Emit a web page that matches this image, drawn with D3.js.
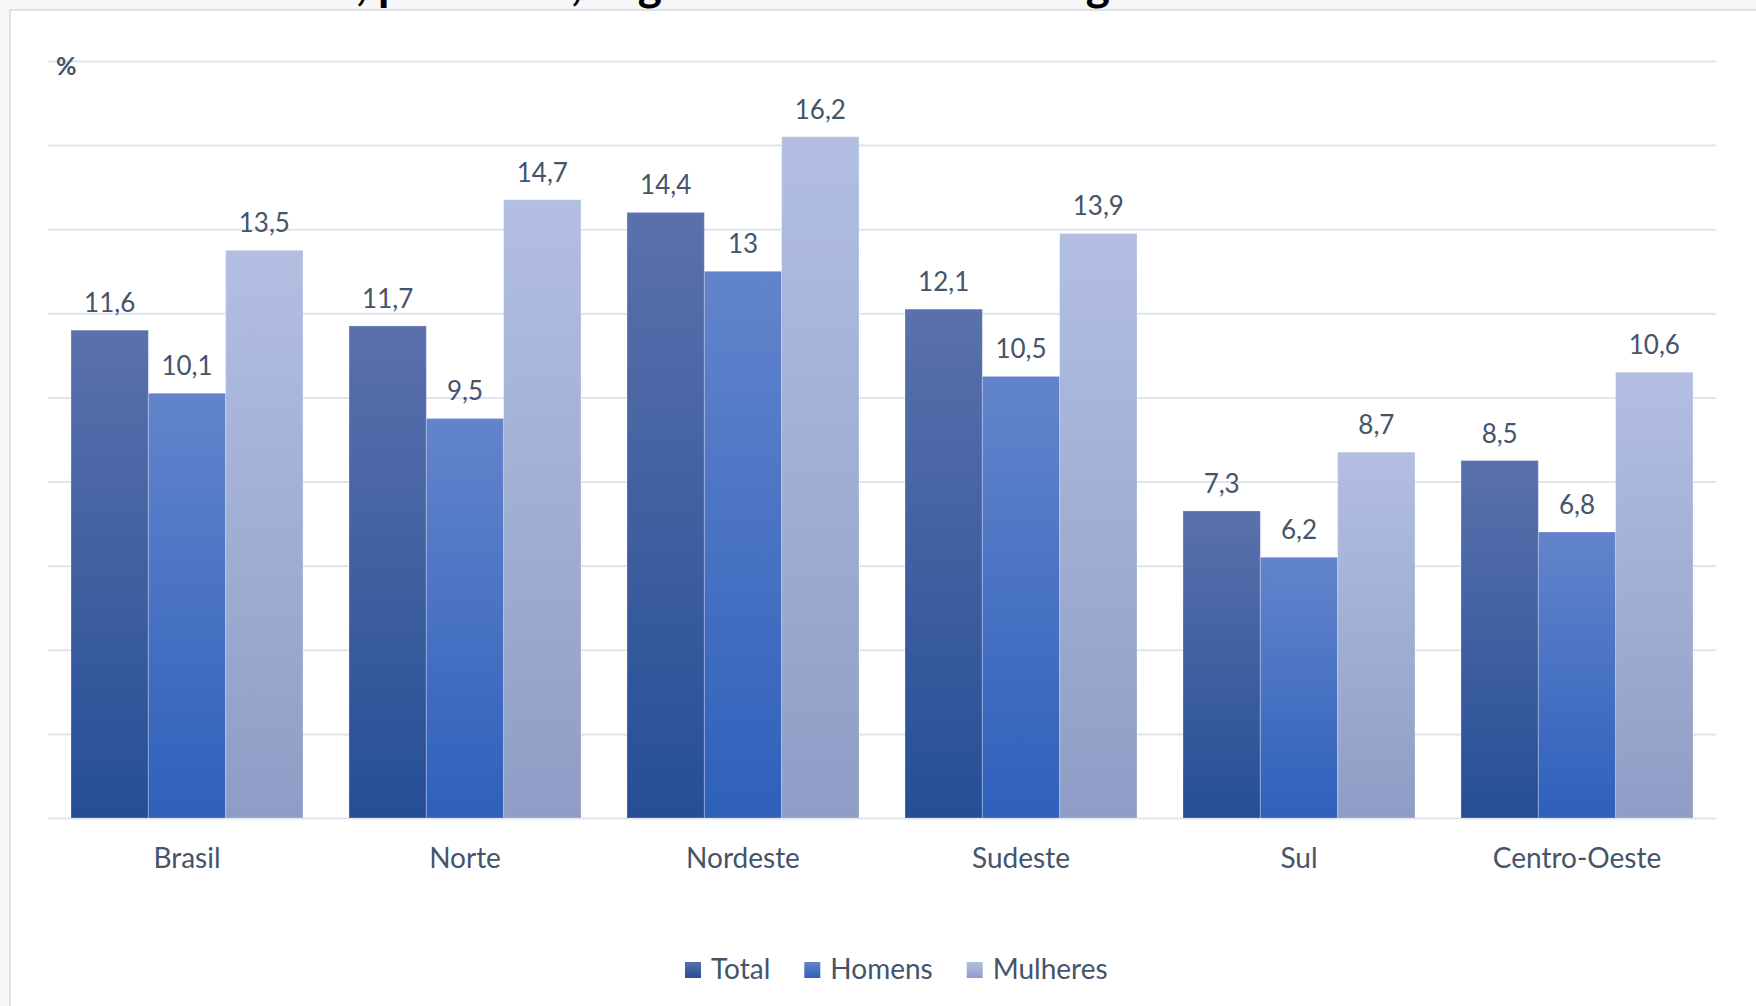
<!DOCTYPE html>
<html>
<head>
<meta charset="utf-8">
<script src="https://cdnjs.cloudflare.com/ajax/libs/d3/7.8.5/d3.min.js"></script>
<style>
  html, body { margin: 0; padding: 0; background: #f7f7f7; }
  svg { display: block; font-family: Lato, "Open Sans", sans-serif; }
</style>
</head>
<body>
<svg id="chart" width="1756" height="1006"></svg>
<script>
// regions and series (taxa, %)
const regions = ['Brasil', 'Norte', 'Nordeste', 'Sudeste', 'Sul', 'Centro-Oeste'];
const seriesNames = ['Total', 'Homens', 'Mulheres'];
const total = [11.6, 11.7, 14.4, 12.1, 7.3, 8.5];
const homens = [10.1, 9.5, 13, 10.5, 6.2, 6.8];
const mulheres = [13.5, 14.7, 16.2, 13.9, 8.7, 10.6];
const yTicks = [0, 2, 4, 6, 8, 10, 12, 14, 16, 18];

// title pieces: [text, index of the char to line up, x where that char starts]
const titleParts = [
  ['Taxa de desocupação no 1º trimestre de 2019, por sexo', 43, 356],
  [', segundo as Grandes', 0, 571],
  ['Regiões', 3, 1110]
];

const W = 1756, H = 1006;
const plot = { left: 48, right: 1716, top: 61, bottom: 818 };
const textColor = '#44546a';

// gradient stops per series: [top, bottom]
const colors = {
  Total: ['#5a71ac', '#264e96'],
  Homens: ['#6384cc', '#2e60bb'],
  Mulheres: ['#b2bfe2', '#8f9dc6']
};

const rows = regions.map((r, i) => ({
  region: r,
  values: [
    { key: 'Total', value: total[i] },
    { key: 'Homens', value: homens[i] },
    { key: 'Mulheres', value: mulheres[i] }
  ]
}));

const svg = d3.select('#chart');
const defs = svg.append('defs');

seriesNames.forEach(name => {
  const g = defs.append('linearGradient')
    .attr('id', `grad-${name}`)
    .attr('x1', 0).attr('y1', 0).attr('x2', 0).attr('y2', 1);
  g.append('stop').attr('offset', '0%').attr('stop-color', colors[name][0]);
  g.append('stop').attr('offset', '100%').attr('stop-color', colors[name][1]);
});

// title: sits above the frame, only the descenders peek out
titleParts.forEach(([str, idx, targetX]) => {
  const t = svg.append('text')
    .attr('x', 0)
    .attr('y', 0)
    .style('font-weight', 'bold')
    .style('font-size', '46px')
    .style('fill', '#000')
    .text(str);
  const off = idx > 0 ? t.node().getSubStringLength(0, idx) : 0;
  t.attr('x', targetX - off);
});

// chart frame
svg.append('rect')
  .attr('x', 10).attr('y', 10)
  .attr('width', W).attr('height', H)
  .attr('fill', '#fff')
  .attr('stroke', '#dde2eb')
  .attr('stroke-width', 2);

/**
 * Scales
 */
const x0 = d3.scaleBand()
  .domain(regions)
  .range([plot.left, plot.right])
  .padding(0);

const inset = 23;
const x1 = d3.scaleBand()
  .domain(seriesNames)
  .range([inset, x0.bandwidth() - inset])
  .padding(0);

const y = d3.scaleLinear()
  .domain([0, 18])
  .range([plot.bottom, plot.top]);

/**
 * Grid
 */
const yAxis = d3.axisLeft(y)
  .tickValues(yTicks)
  .tickSize(-(plot.right - plot.left))
  .tickFormat('');

svg.append('g')
  .attr('transform', `translate(${plot.left}, 0)`)
  .call(yAxis)
  .call(g => g.select('.domain').remove())
  .call(g => g.selectAll('line')
    .attr('stroke', '#e0e4ec')
    .attr('stroke-width', 2));

svg.append('text')
  .attr('x', 56)
  .attr('y', 75)
  .style('font-weight', 'bold')
  .style('font-size', '25px')
  .style('fill', textColor)
  .text('%');

/**
 * Bars
 */
const groups = svg.append('g')
  .selectAll('g')
  .data(rows)
  .join('g')
  .attr('transform', d => `translate(${x0(d.region)}, 0)`);

groups.selectAll('rect')
  .data(d => d.values)
  .join('rect')
  .attr('x', d => x1(d.key))
  .attr('y', d => y(d.value))
  .attr('width', x1.bandwidth())
  .attr('height', d => y(0) - y(d.value))
  .attr('fill', d => `url(#grad-${d.key})`)
  .attr('stroke', 'rgba(255,255,255,0.25)')
  .attr('stroke-width', 1);

const fmt = v => String(v).replace('.', ',');

groups.selectAll('text')
  .data(d => d.values)
  .join('text')
  .attr('x', d => x1(d.key) + x1.bandwidth() / 2)
  .attr('y', d => y(d.value) - 18)
  .attr('text-anchor', 'middle')
  .style('font-size', '26px')
  .style('fill', textColor)
  .text(d => fmt(d.value));

/**
 * X axis labels
 */
const xAxis = d3.axisBottom(x0).tickSize(0).tickPadding(0);

svg.append('g')
  .attr('transform', `translate(0, ${plot.bottom})`)
  .call(xAxis)
  .call(g => g.select('.domain').remove())
  .call(g => g.selectAll('text')
    .attr('dy', null)
    .attr('y', 50)
    .style('font-family', 'Lato, sans-serif')
    .style('font-size', '28px')
    .style('fill', textColor));

/**
 * Legend
 */
const legend = svg.append('g').attr('transform', 'translate(685, 979)');
let lx = 0;
seriesNames.forEach(name => {
  const item = legend.append('g').attr('transform', `translate(${lx}, 0)`);
  item.append('rect')
    .attr('x', 0).attr('y', -17)
    .attr('width', 16).attr('height', 16)
    .attr('fill', `url(#grad-${name})`);
  const t = item.append('text')
    .attr('x', 26)
    .attr('y', 0)
    .style('font-size', '28px')
    .style('fill', textColor)
    .text(name);
  lx += 26 + t.node().getComputedTextLength() + 34;
});
</script>
</body>
</html>
